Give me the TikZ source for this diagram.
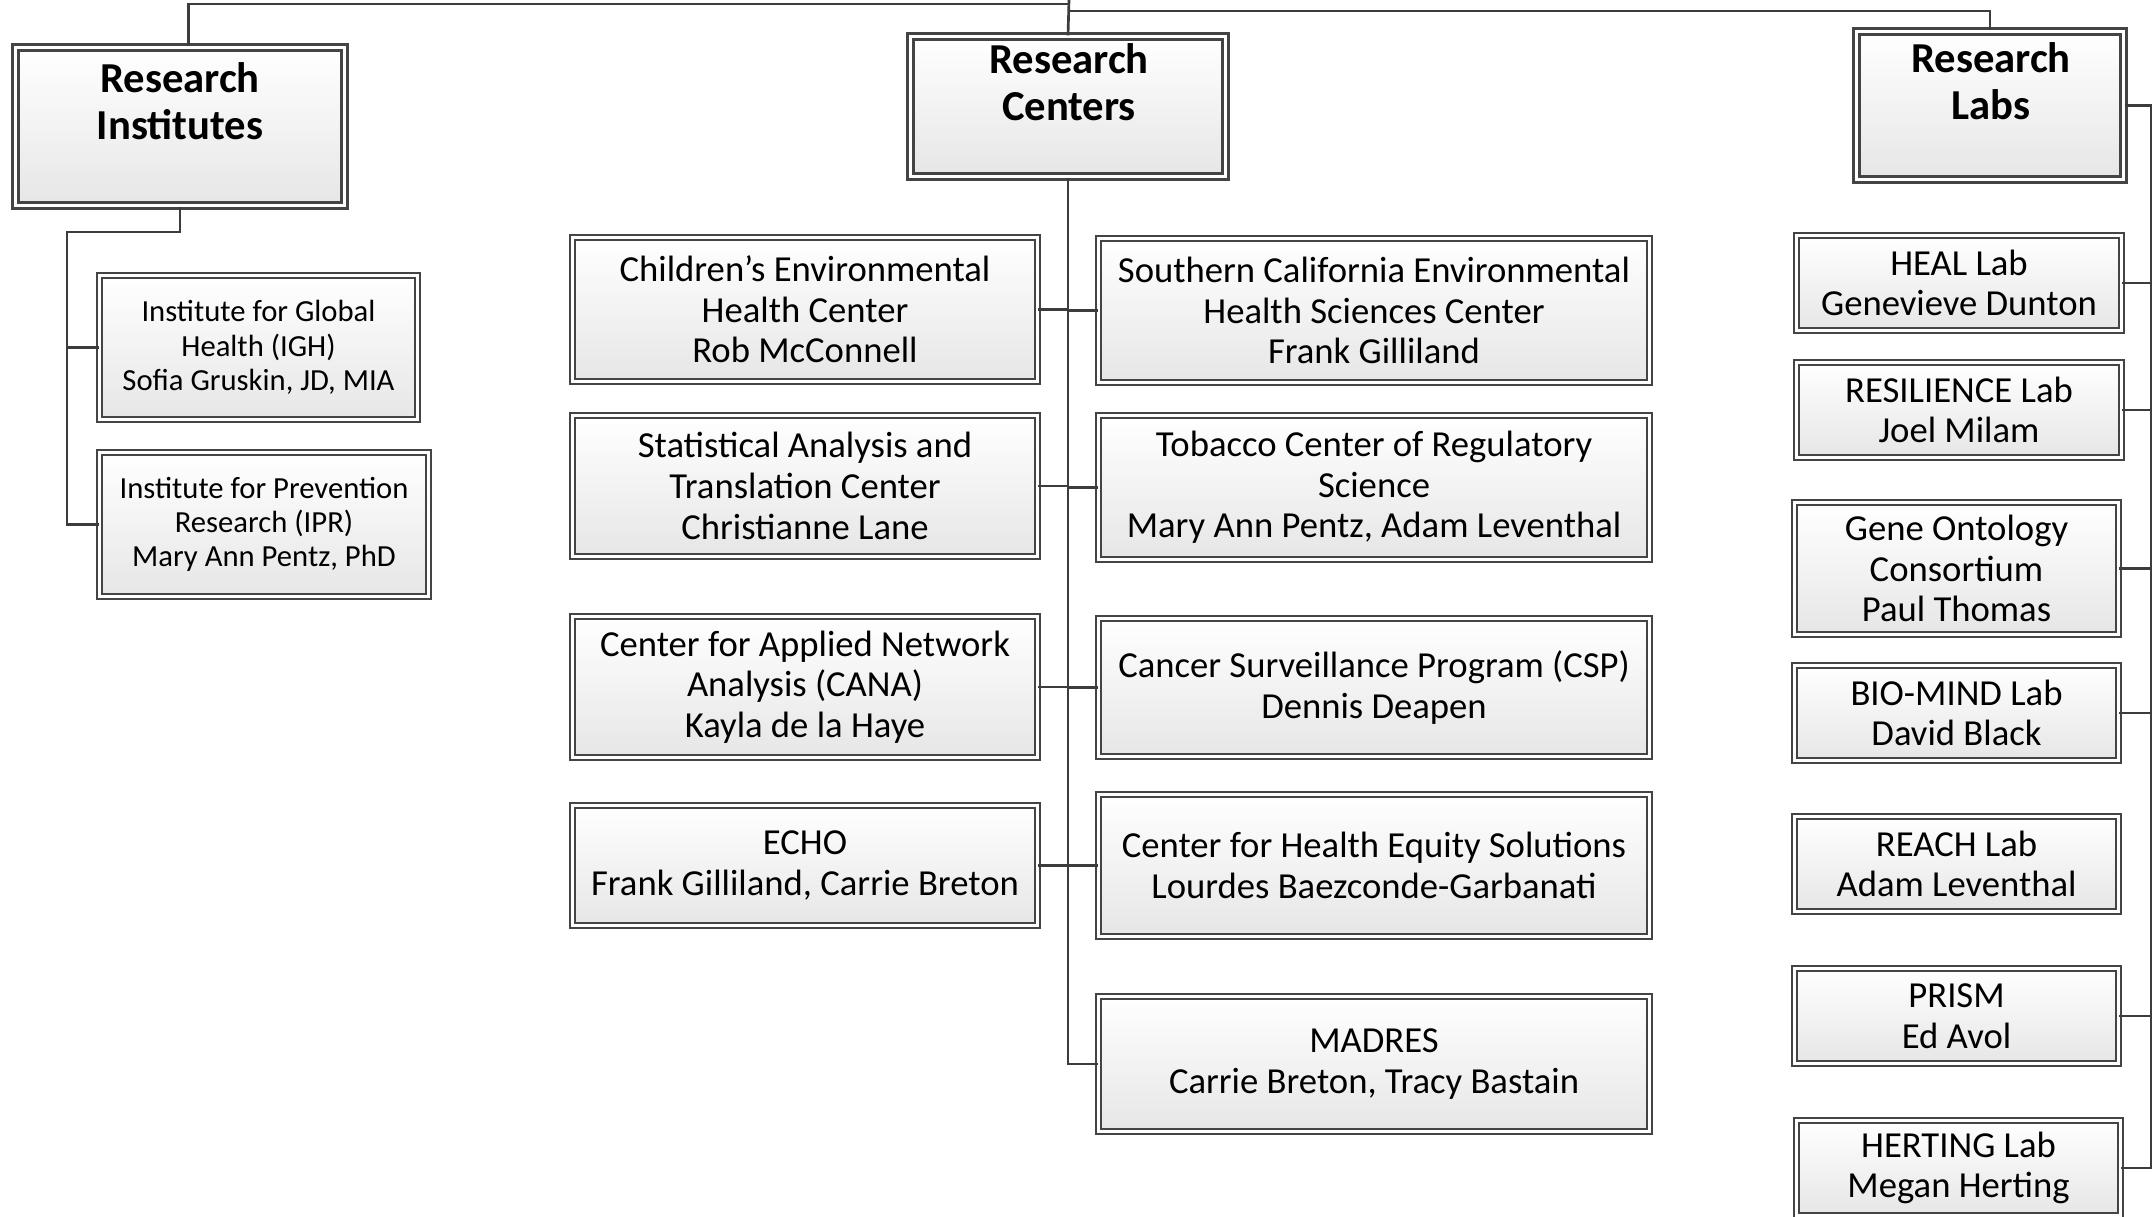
\documentclass[tikz,border=0pt]{standalone}
\usepackage{fontspec}
\setmainfont{Carlito}
\usetikzlibrary{shadows,calc}
\definecolor{edgec}{HTML}{444444}
\definecolor{linec}{HTML}{3C3C3C}
\definecolor{shadeb}{HTML}{E6E6E6}
\tikzset{
  basebox/.style={rectangle, draw=edgec, double=white, top color=white, bottom color=shadeb,
    drop shadow={shadow xshift=1.1pt, shadow yshift=-1.1pt, opacity=0.28, fill=black},
    align=center, inner sep=0pt, text=black},
  orgbox/.style={basebox, line width=0.45pt, double distance=1.0pt, font=\fontsize{11}{12.2}\selectfont},
  instbox/.style={orgbox, font=\fontsize{9.2}{10.3}\selectfont},
  hdrbox/.style={basebox, line width=0.7pt, double distance=1.1pt},
  hdrtext/.style={align=center, inner sep=0pt, font=\bfseries\fontsize{12.8}{14.1}\selectfont},
  conn/.style={draw=linec, line width=0.8pt}
}
\newcommand\obox[7]{\node[#1, minimum width={(#5-#3-7)*0.3pt}, minimum height={(#6-#4-7)*0.3pt}] (#2) at ({(#3+#5)/2},{(#4+#6)/2}) {#7};}
\begin{document}
\begin{tikzpicture}[x=0.3pt,y=-0.3pt]
\useasboundingbox (0,0) rectangle (2154,1216);
% headers
\obox{hdrbox}{ri}{12}{44}{348}{209}{}
\obox{hdrbox}{rc}{907}{33}{1229}{180}{}
\obox{hdrbox}{rl}{1853}{28}{2127}{183}{}
\node[hdrtext] (ritext) at (180,101) {Research\\Institutes};
\node[hdrtext] (rctext) at (1069,82) {Research\\Centers};
\node[hdrtext] (rltext) at (1991,81) {Research\\Labs};
% institutes
\obox{instbox}{igh}{96}{272}{421}{423}{Institute for Global\\Health (IGH)\\Sofia Gruskin, JD, MIA}
\obox{instbox}{ipr}{96}{449}{432}{600}{Institute for Prevention\\Research (IPR)\\Mary Ann Pentz, PhD}
% centers left
\obox{orgbox}{chil}{569}{234}{1041}{385}{Children’s Environmental\\Health Center\\Rob McConnell}
\obox{orgbox}{stat}{569}{412}{1041}{560}{Statistical Analysis and\\Translation Center\\Christianne Lane}
\obox{orgbox}{cana}{569}{613}{1041}{761}{Center for Applied Network\\Analysis (CANA)\\Kayla de la Haye}
\obox{orgbox}{echo}{569}{802}{1041}{929}{ECHO\\Frank Gilliland, Carrie Breton}
% centers right
\obox{orgbox}{socal}{1095}{235}{1653}{386}{Southern California Environmental\\Health Sciences Center\\Frank Gilliland}
\obox{orgbox}{tob}{1095}{412}{1653}{563}{Tobacco Center of Regulatory\\Science\\Mary Ann Pentz, Adam Leventhal}
\obox{orgbox}{csp}{1095}{615}{1653}{760}{Cancer Surveillance Program (CSP)\\Dennis Deapen}
\obox{orgbox}{ches}{1095}{791}{1653}{940}{Center for Health Equity Solutions\\Lourdes Baezconde-Garbanati}
\obox{orgbox}{madres}{1095}{993}{1653}{1135}{MADRES\\Carrie Breton, Tracy Bastain}
% labs
\obox{orgbox}{heal}{1793}{232}{2125}{334}{HEAL Lab\\Genevieve Dunton}
\obox{orgbox}{resil}{1793}{359}{2125}{461}{RESILIENCE Lab\\Joel Milam}
\obox{orgbox}{gene}{1791}{499}{2122}{638}{Gene Ontology\\Consortium\\Paul Thomas}
\obox{orgbox}{bio}{1791}{662}{2122}{764}{BIO-MIND Lab\\David Black}
\obox{orgbox}{reach}{1791}{813}{2122}{915}{REACH Lab\\Adam Leventhal}
\obox{orgbox}{prism}{1791}{965}{2122}{1067}{PRISM\\Ed Avol}
\obox{orgbox}{hert}{1793}{1117}{2124}{1219}{HERTING Lab\\Megan Herting}
% top connectors
\coordinate (topc) at (1069,0);
\coordinate (ja) at (1069,4);
\coordinate (jb) at (1069,11);
\draw[conn] (topc) -- (rc.north);
\draw[conn] (ja) -| ([xshift=2.6pt]ri.north);
\draw[conn] (jb) -| (rl.north);
% institutes
\coordinate (ij) at (67,232);
\draw[conn] (ri.south) |- (ij) |- (ipr.west);
\draw[conn] (ij) |- (igh.west);
% centers
\draw[conn] (rc.south) |- (madres.west);
\foreach \n in {chil,stat,cana,echo} \draw[conn] (\n.east) -- (\n.east -| rc.south);
\foreach \n in {socal,tob,csp,ches} \draw[conn] (rc.south |- \n.west) -- (\n.west);
% labs
\coordinate (lsp) at (2151,105);
\draw[conn] (rl.east) -- (rl.east -| lsp) |- (hert.east);
\foreach \n in {heal,resil,gene,bio,prism} \draw[conn] (\n.east) -- (\n.east -| lsp);
\end{tikzpicture}
\end{document}
